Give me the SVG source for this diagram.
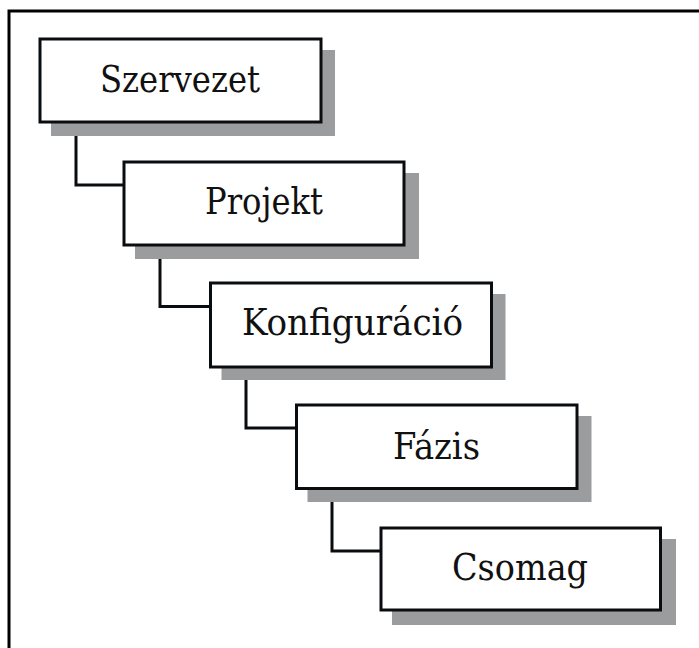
<svg xmlns="http://www.w3.org/2000/svg" width="699" height="648" viewBox="0 0 699 648">
  <style>
    .frame { fill: none; stroke: #000; stroke-width: 3; }
    .shadow { fill: #9a9c9d; stroke: none; }
    .box { fill: #fff; stroke: #0a0d10; stroke-width: 3; }
    .label { font-family: 'DejaVu Serif Condensed', 'DejaVu Serif', serif; font-size: 37px; fill: #111; text-anchor: middle; }
    .link { fill: none; stroke: #0a0d10; stroke-width: 3; }
  </style>
  <rect width="699" height="648" fill="#fff"/>
  <!-- outer frame: top and left edges -->
  <path class="frame" d="M9,648 V11 H699"/>

  <!-- elbow connectors between successive levels -->
  <g id="connectors">
    <path class="link" d="M76,122 V185 H124"/>
    <path class="link" d="M160,245 V306.5 H210.5"/>
    <path class="link" d="M246,367 V428 H296.5"/>
    <path class="link" d="M332,488.5 V551 H381"/>
  </g>

  <g id="szervezet">
    <rect class="shadow" x="51" y="50" width="284" height="86"/>
    <rect class="box" x="40" y="39" width="281" height="83"/>
    <text class="label" x="180" y="92" textLength="160" lengthAdjust="spacingAndGlyphs">Szervezet</text>
  </g>
  <g id="projekt">
    <rect class="shadow" x="135" y="173" width="284" height="86"/>
    <rect class="box" x="124" y="162" width="280" height="83"/>
    <text class="label" x="264" y="214" textLength="118" lengthAdjust="spacingAndGlyphs">Projekt</text>
  </g>
  <g id="konfiguracio">
    <rect class="shadow" x="221.5" y="294" width="284" height="86"/>
    <rect class="box" x="210.5" y="283" width="281" height="84"/>
    <text class="label" x="352.5" y="334.5" textLength="221" lengthAdjust="spacingAndGlyphs">Konfiguráció</text>
  </g>
  <g id="fazis">
    <rect class="shadow" x="307.5" y="416" width="284" height="86"/>
    <rect class="box" x="296.5" y="405" width="280.5" height="83.5"/>
    <text class="label" x="436.5" y="459" textLength="87" lengthAdjust="spacingAndGlyphs">Fázis</text>
  </g>
  <g id="csomag">
    <rect class="shadow" x="392" y="539" width="284" height="86"/>
    <rect class="box" x="381" y="528" width="279.5" height="82"/>
    <text class="label" x="520" y="580" textLength="136" lengthAdjust="spacingAndGlyphs">Csomag</text>
  </g>
</svg>
